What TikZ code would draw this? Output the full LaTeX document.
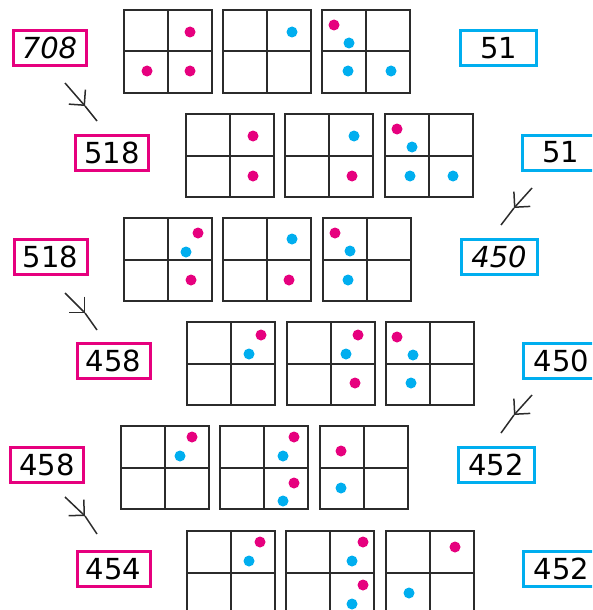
\documentclass[tikz,border=0pt]{standalone}
\usepackage{fontspec}
\setmainfont{DejaVu Sans}
\usetikzlibrary{arrows.meta}
\definecolor{mag}{HTML}{E6007E}
\definecolor{cya}{HTML}{00AEEF}
\definecolor{ink}{HTML}{2B2B2B}
\tikzset{
  gridbox/.style={draw=ink, line width=2pt, minimum width=88pt, minimum height=83pt,
    inner sep=0pt, outer sep=0pt, anchor=north west},
  gridline/.style={draw=ink, line width=2pt},
  lbl/.style={line width=3pt, minimum height=35pt, inner sep=0pt,
    font=\fontsize{29}{29}\selectfont, text=black},
  magbox/.style={lbl, draw=mag, minimum width=73pt},
  cyabox/.style={lbl, draw=cya, minimum width=76pt},
  arr/.style={draw=ink, line width=1.5pt, -{Straight Barb[length=11pt,width=22pt]}},
  seg/.style={draw=ink, line width=1.5pt}
}
\newcommand\mkgrid[3]{\node[gridbox] (#1) at (#2,#3) {};
  \draw[gridline] (#1.north) -- (#1.south) (#1.west) -- (#1.east);}
\newcommand\md[2]{\fill[mag] (#1,#2) circle (5.5pt);}
\newcommand\cd[2]{\fill[cya] (#1,#2) circle (5.5pt);}
\begin{document}
\begin{tikzpicture}[x=1pt,y=-1pt]
\useasboundingbox (0,0) rectangle (592,610);
\clip (0,0) rectangle (592,610);
% ---------- labels ----------
\node[magbox] (l1) at (49.5,48) {\itshape 708};
\node[cyabox] (r1) at (498.5,48) {51};
\node[magbox] (l2) at (112,152.5) {518};
\node[cyabox] (r2) at (560.5,152.5) {51};
\node[magbox] (l3) at (50.5,257) {518};
\node[cyabox] (r3) at (499,257) {\itshape 450};
\node[magbox] (l4) at (113.5,361) {458};
\node[cyabox] (r4) at (561.5,361) {450};
\node[magbox] (l5) at (47,465) {458};
\node[cyabox] (r5) at (496,465) {452};
\node[magbox] (l6) at (113.5,569) {454};
\node[cyabox] (r6) at (561.5,569) {452};
% ---------- arrows ----------
\coordinate (a1s) at (65,83);  \coordinate (a1t) at (85,106); \coordinate (a1e) at (97,121);
\coordinate (a2s) at (65,293); \coordinate (a2t) at (85,313); \coordinate (a2e) at (97,330);
\coordinate (a3s) at (65,497); \coordinate (a3t) at (85,516); \coordinate (a3e) at (97,534);
\coordinate (b1s) at (532,188); \coordinate (b1t) at (514,208); \coordinate (b1e) at (501,225);
\coordinate (b2s) at (532,395); \coordinate (b2t) at (514,415); \coordinate (b2e) at (501,433);
\foreach \a in {a1,a2,a3,b1,b2}{
  \draw[arr] (\a s) -- (\a t);
  \draw[seg] (\a t) -- (\a e);
}
% ---------- grids ----------
\mkgrid{g11}{124}{10} \mkgrid{g12}{223}{10} \mkgrid{g13}{322}{10}
\mkgrid{g21}{186}{114} \mkgrid{g22}{285}{114} \mkgrid{g23}{385}{114}
\mkgrid{g31}{124}{218} \mkgrid{g32}{223}{218} \mkgrid{g33}{323}{218}
\mkgrid{g41}{187}{322} \mkgrid{g42}{287}{322} \mkgrid{g43}{386}{322}
\mkgrid{g51}{121}{426} \mkgrid{g52}{220}{426} \mkgrid{g53}{320}{426}
\mkgrid{g61}{187}{531} \mkgrid{g62}{286}{531} \mkgrid{g63}{386}{531}
% ---------- dots ----------
% row 1
\md{190}{32} \md{147}{71} \md{190}{71}
\cd{292}{32}
\md{334}{25} \cd{349}{43} \cd{348}{71} \cd{391}{71}
% row 2
\md{253}{136} \md{253}{176}
\cd{354}{136} \md{352}{176}
\md{397}{129} \cd{412}{147} \cd{410}{176} \cd{453}{176}
% row 3
\md{198}{233} \cd{186}{252} \md{191}{280}
\cd{292}{239} \md{289}{280}
\md{335}{233} \cd{350}{251} \cd{348}{280}
% row 4
\md{261}{335} \cd{249}{354}
\md{358}{335} \cd{346}{354} \md{355}{383}
\md{397}{337} \cd{413}{355} \cd{411}{383}
% row 5
\md{192}{437} \cd{180}{456}
\md{294}{437} \cd{283}{456} \md{294}{483} \cd{283}{501}
\md{341}{451} \cd{341}{488}
% row 6
\md{260}{542} \cd{249}{561}
\md{363}{542} \cd{352}{561} \md{363}{585} \cd{352}{604}
\md{455}{547} \cd{409}{593}
\end{tikzpicture}
\end{document}
